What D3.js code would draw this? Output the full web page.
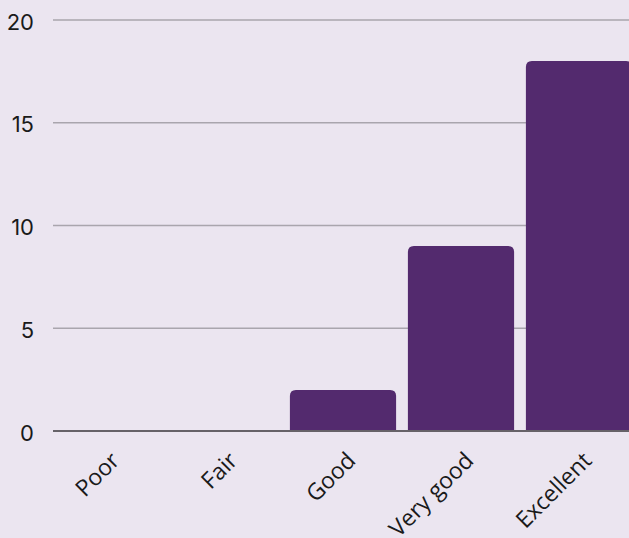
<!DOCTYPE html>
<html><head><meta charset="utf-8">
<script src="https://cdn.jsdelivr.net/npm/d3@7"></script>
<style>
html,body{margin:0;padding:0;background:#ebe5f0;}
svg{display:block;}
</style></head>
<body>
<svg id="chart" width="629" height="538"></svg>
<script>
const categories = ["Poor", "Fair", "Good", "Very good", "Excellent"];
const values = [0, 0, 2, 9, 18];
const yTicks = [0, 5, 10, 15, 20];

const W = 629, H = 538;
const svg = d3.select("#chart");
svg.append("rect").attr("width", W).attr("height", H).attr("fill", "#ebe5f0");

const gridLeft = 53;
const x = d3.scaleBand().domain(categories).range([48, 638]).paddingInner(0.1).paddingOuter(0.05);
const y = d3.scaleLinear().domain([0, 20]).range([431, 20]);

// gridlines
svg.append("g").selectAll("line").data(yTicks.filter(d => d !== 0)).join("line")
  .attr("x1", gridLeft).attr("x2", W)
  .attr("y1", d => y(d)).attr("y2", d => y(d))
  .attr("stroke", "#a9a5ad").attr("stroke-width", 1.3);

// y tick labels
svg.append("g").selectAll("text").data(yTicks).join("text")
  .attr("x", 34).attr("y", d => y(d) + 2)
  .attr("dy", "0.35em")
  .attr("text-anchor", "end")
  .attr("font-family", "Inter, 'Noto Sans', sans-serif")
  .attr("font-size", 22)
  .attr("fill", "#1a1a1a")
  .text(d => d);

// bars with rounded top corners
const r = 6;
function barPath(x0, w, yTop, yBase) {
  const h = yBase - yTop;
  if (h <= 0) return "";
  const rr = Math.min(r, h, w / 2);
  return `M${x0},${yBase} L${x0},${yTop + rr} Q${x0},${yTop} ${x0 + rr},${yTop} L${x0 + w - rr},${yTop} Q${x0 + w},${yTop} ${x0 + w},${yTop + rr} L${x0 + w},${yBase} Z`;
}
svg.append("g").selectAll("path").data(categories).join("path")
  .attr("d", (c, i) => barPath(x(c), x.bandwidth(), y(values[i]), y(0)))
  .attr("fill", "#532a6e");

// zero baseline
svg.append("line").attr("x1", gridLeft).attr("x2", W)
  .attr("y1", y(0)).attr("y2", y(0))
  .attr("stroke", "#666268").attr("stroke-width", 2);

// x labels
svg.append("g").selectAll("text").data(categories).join("text")
  .attr("transform", c => `translate(${x(c) + x.bandwidth() / 2 + 14},${y(0) + 31}) rotate(-45)`)
  .attr("text-anchor", "end")
  .attr("font-family", "'Open Sans', 'Noto Sans', sans-serif")
  .attr("font-size", 23)
  .attr("fill", "#1a1a1a")
  .text(c => c);
</script>
</body></html>
